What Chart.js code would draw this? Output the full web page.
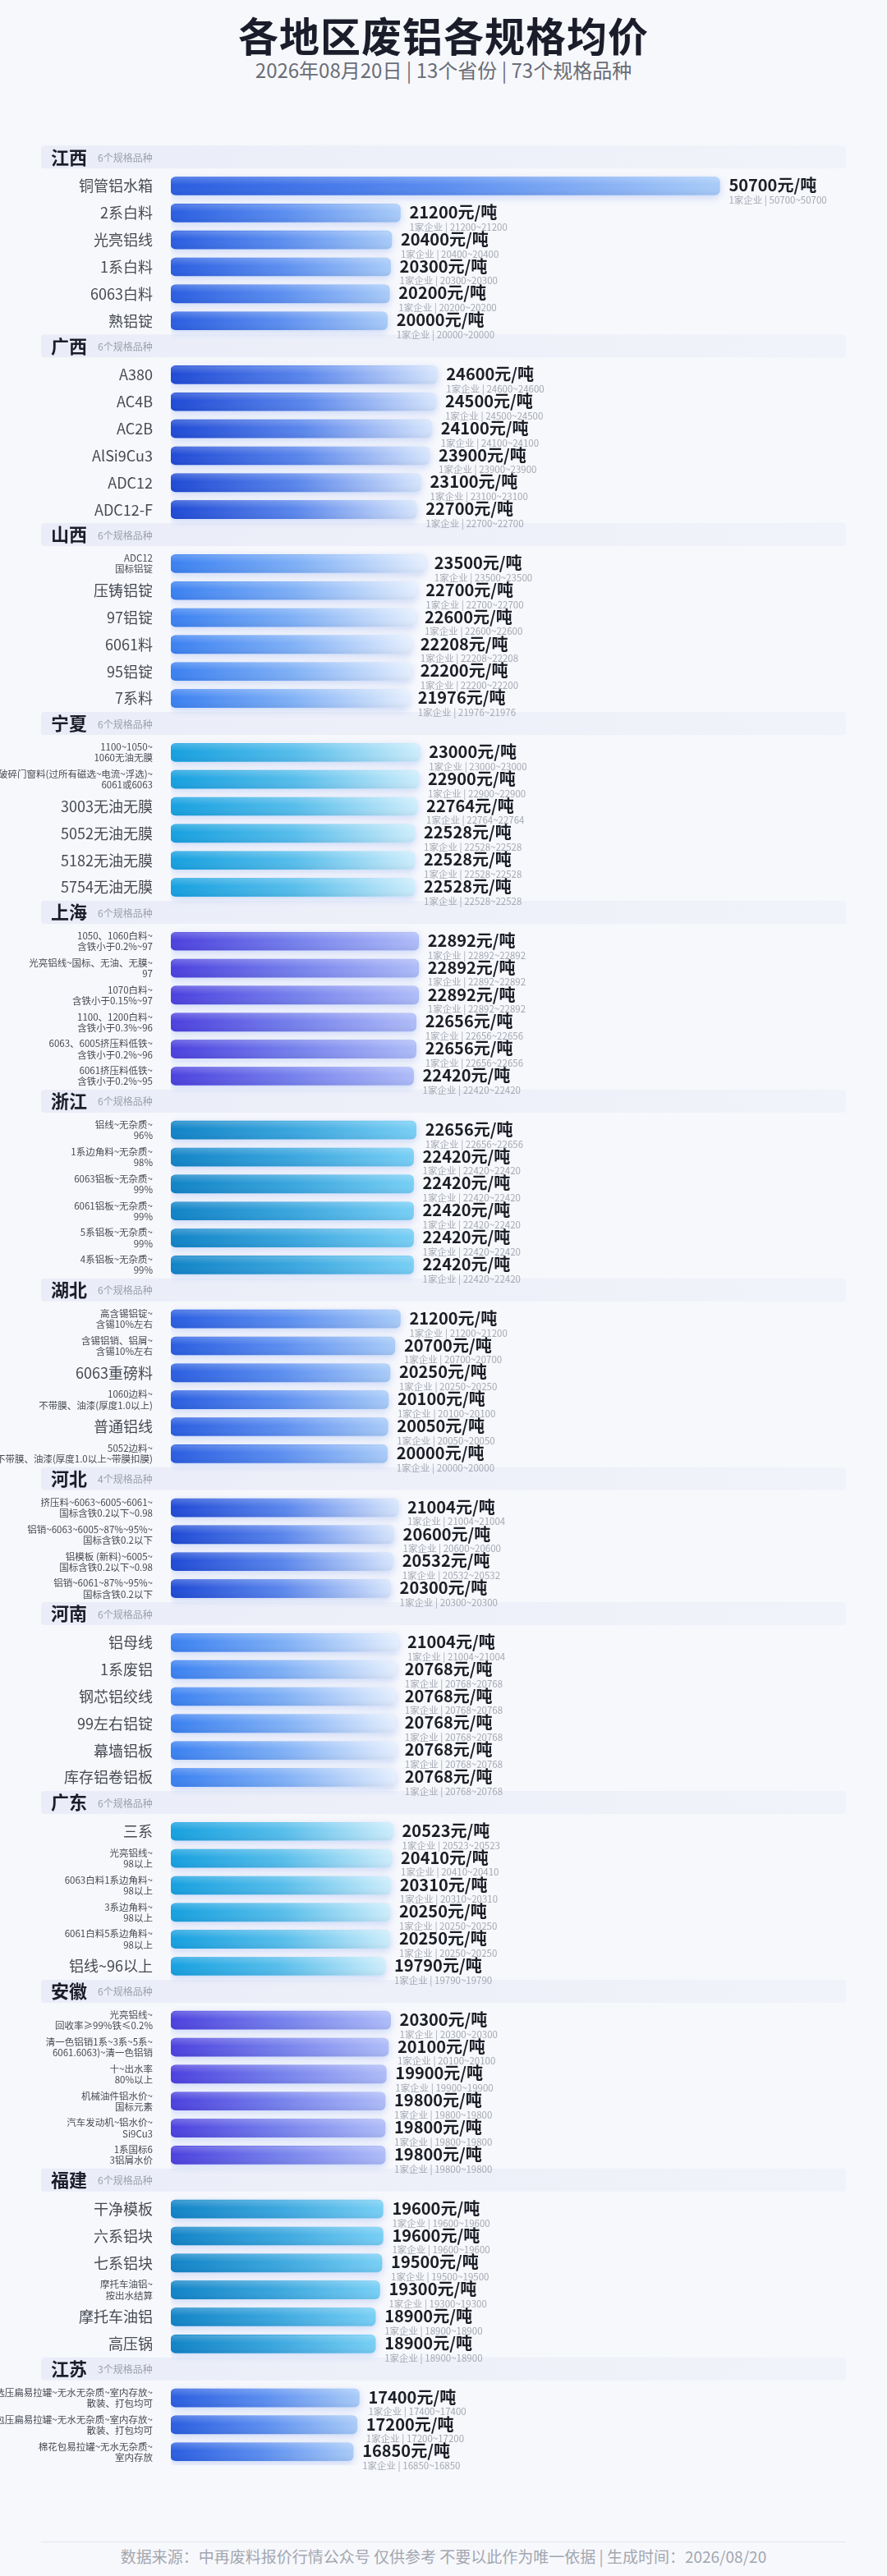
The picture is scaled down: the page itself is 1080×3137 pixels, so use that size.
<!DOCTYPE html>
<html>
<head>
<meta charset="utf-8">
<script src="https://cdn.jsdelivr.net/npm/chart.js@4.4.1/dist/chart.umd.min.js"></script>
<style>
html,body{margin:0;padding:0;background:#f7f8fc;}
body{width:1080px;height:3137px;position:relative;overflow:hidden;font-family:"Noto Sans CJK SC","Noto Sans",sans-serif;}
#title{position:absolute;top:13px;left:0;width:1080px;text-align:center;font-size:49px;font-weight:700;color:#1b1d2a;line-height:58px;letter-spacing:1px;}
#sub{position:absolute;top:71px;left:0;width:1080px;text-align:center;font-size:24px;color:#6a6e77;line-height:28px;}
#wrap{position:absolute;top:150px;left:0;width:1080px;height:2877px;}
#line{position:absolute;top:3095px;left:50px;width:980px;height:1px;background:#e2e5ed;}
#foot{position:absolute;top:3099px;left:0;width:1080px;text-align:center;font-size:19px;color:#a3a7b0;line-height:28px;}
</style>
</head>
<body>
<div id="title">各地区废铝各规格均价</div>
<div id="sub"></div>
<div id="wrap"><canvas id="c" width="1080" height="2877"></canvas></div>
<div id="line"></div>
<div id="foot">数据来源：中再废料报价行情公众号 仅供参考 不要以此作为唯一依据 | 生成时间：2026/08/20</div>
<script>
// ---------------- DATA ----------------
const reportDate = '2026年08月20日';
const provinces = ['江西','广西','山西','宁夏','上海','浙江','湖北','河北','河南','广东','安徽','福建','江苏'];

const itemsJiangxi = ['铜管铝水箱','2系白料','光亮铝线','1系白料','6063白料','熟铝锭'];
const pricesJiangxi = [50700,21200,20400,20300,20200,20000];

const itemsGuangxi = ['A380','AC4B','AC2B','AlSi9Cu3','ADC12','ADC12-F'];
const pricesGuangxi = [24600,24500,24100,23900,23100,22700];

const itemsShanxi = ['ADC12\n国标铝锭','压铸铝锭','97铝锭','6061料','95铝锭','7系料'];
const pricesShanxi = [23500,22700,22600,22208,22200,21976];

const itemsNingxia = ['1100~1050~\n1060无油无膜','破碎门窗料(过所有磁选~电流~浮选)~\n6061或6063','3003无油无膜','5052无油无膜','5182无油无膜','5754无油无膜'];
const pricesNingxia = [23000,22900,22764,22528,22528,22528];

const itemsShanghai = ['1050、1060白料~\n含铁小于0.2%~97','光亮铝线~国标、无油、无膜~\n97','1070白料~\n含铁小于0.15%~97','1100、1200白料~\n含铁小于0.3%~96','6063、6005挤压料低铁~\n含铁小于0.2%~96','6061挤压料低铁~\n含铁小于0.2%~95'];
const pricesShanghai = [22892,22892,22892,22656,22656,22420];

const itemsZhejiang = ['铝线~无杂质~\n96%','1系边角料~无杂质~\n98%','6063铝板~无杂质~\n99%','6061铝板~无杂质~\n99%','5系铝板~无杂质~\n99%','4系铝板~无杂质~\n99%'];
const pricesZhejiang = [22656,22420,22420,22420,22420,22420];

const itemsHubei = ['高含锡铝锭~\n含锡10%左右','含锡铝销、铝屑~\n含锡10%左右','6063重磅料','1060边料~\n不带膜、油漆(厚度1.0以上)','普通铝线','5052边料~\n不带膜、油漆(厚度1.0以上~带膜扣膜)'];
const pricesHubei = [21200,20700,20250,20100,20050,20000];

const itemsHebei = ['挤压料~6063~6005~6061~\n国标含铁0.2以下~0.98','铝销~6063~6005~87%~95%~\n国标含铁0.2以下','铝模板 (新料)~6005~\n国标含铁0.2以下~0.98','铝销~6061~87%~95%~\n国标含铁0.2以下'];
const pricesHebei = [21004,20600,20532,20300];

const itemsHenan = ['铝母线','1系废铝','钢芯铝绞线','99左右铝锭','幕墙铝板','库存铝卷铝板'];
const pricesHenan = [21004,20768,20768,20768,20768,20768];

const itemsGuangdong = ['三系','光亮铝线~\n98以上','6063白料1系边角料~\n98以上','3系边角料~\n98以上','6061白料5系边角料~\n98以上','铝线~96以上'];
const pricesGuangdong = [20523,20410,20310,20250,20250,19790];

const itemsAnhui = ['光亮铝线~\n回收率≥99%铁≤0.2%','清一色铝销1系~3系~5系~\n6061.6063)~清一色铝销','十~出水率\n80%以上','机械油件铝水价~\n国标元素','汽车发动机~铝水价~\nSi9Cu3','1系国标6\n3铝屑水价'];
const pricesAnhui = [20300,20100,19900,19800,19800,19800];

const itemsFujian = ['干净模板','六系铝块','七系铝块','摩托车油铝~\n按出水结算','摩托车油铝','高压锅'];
const pricesFujian = [19600,19600,19500,19300,18900,18900];

const itemsJiangsu = ['风选压扁易拉罐~无水无杂质~室内存放~\n散装、打包均可','打包压扁易拉罐~无水无杂质~室内存放~\n散装、打包均可','棉花包易拉罐~无水无杂质~\n室内存放'];
const pricesJiangsu = [17400,17200,16850];

const companyCount = 1; // 每个规格均为 1家企业

const provinceItems = [itemsJiangxi,itemsGuangxi,itemsShanxi,itemsNingxia,itemsShanghai,itemsZhejiang,itemsHubei,itemsHebei,itemsHenan,itemsGuangdong,itemsAnhui,itemsFujian,itemsJiangsu];
const provincePrices = [pricesJiangxi,pricesGuangxi,pricesShanxi,pricesNingxia,pricesShanghai,pricesZhejiang,pricesHubei,pricesHebei,pricesHenan,pricesGuangdong,pricesAnhui,pricesFujian,pricesJiangsu];

// ---------------- STYLE ----------------
const palettes = [
  ['#2a5de0','#5b8ef0','#a8cbf8'], // blue
  ['#1f4ad5','#5a86ec','#d6e5fc'], // deep blue
  ['#3a80f1','#7fb0f6','#e4eefd'], // light blue
  ['#16a0df','#56bdeb','#cdedfb'], // cyan
  ['#4c40de','#7580ec','#aebcf8'], // indigo
  ['#1183c6','#3aa6de','#78cff5']  // teal
];
const FONT = '"Noto Sans CJK SC","Noto Sans",sans-serif';

// ---------------- BUILD ROWS ----------------
const rowLabels = [], rowValues = [], rowPalette = [], headerRows = [];
provinces.forEach((p, pi) => {
  headerRows.push({index: rowLabels.length, name: p, count: provinceItems[pi].length});
  rowLabels.push(''); rowValues.push(null); rowPalette.push(pi % 6);
  provinceItems[pi].forEach((it, k) => {
    rowLabels.push(it.indexOf('\n') >= 0 ? it.split('\n') : it);
    rowValues.push(provincePrices[pi][k]);
    rowPalette.push(pi % 6);
  });
});
const totalItems = provinceItems.reduce((s, a) => s + a.length, 0);
document.getElementById('sub').textContent = reportDate + ' | ' + provinces.length + '个省份 | ' + totalItems + '个规格品种';

function barFill(c) {
  const chart = c.chart, i = c.dataIndex, pal = palettes[rowPalette[i]];
  const v = rowValues[i];
  if (v == null) return 'rgba(0,0,0,0)';
  if (!chart.chartArea || !chart.scales.x) return pal[0];
  const xs = chart.scales.x;
  const x0 = xs.getPixelForValue(0), x1 = xs.getPixelForValue(v);
  const g = chart.ctx.createLinearGradient(x0, 0, x1, 0);
  g.addColorStop(0, pal[0]); g.addColorStop(0.5, pal[1]); g.addColorStop(1, pal[2]);
  return g;
}

const deco = {
  id: 'deco',
  beforeDatasetsDraw(chart) {
    const ctx = chart.ctx, y = chart.scales.y;
    const rowH = y.getPixelForValue(1) - y.getPixelForValue(0);
    headerRows.forEach(h => {
      const top = y.getPixelForValue(h.index) - rowH / 2;
      ctx.save();
      const g = ctx.createLinearGradient(50, 0, 1030, 0);
      g.addColorStop(0, '#eaedf8'); g.addColorStop(1, '#f1f3fa');
      ctx.fillStyle = g;
      ctx.beginPath(); ctx.roundRect(50, top, 980, 28, 4); ctx.fill();
      ctx.textBaseline = 'middle'; ctx.textAlign = 'left';
      ctx.font = '700 22px ' + FONT; ctx.fillStyle = '#1b1d2a';
      ctx.fillText(h.name, 62, top + 14);
      const w = ctx.measureText(h.name).width;
      ctx.font = '12px ' + FONT; ctx.fillStyle = '#9ca1ac';
      ctx.fillText(h.count + '个规格品种', 62 + w + 13, top + 15);
      ctx.restore();
    });
    ctx.save();
    ctx.shadowColor = 'rgba(60,110,230,0.24)';
    ctx.shadowBlur = 10; ctx.shadowOffsetY = 3;
  },
  afterDatasetsDraw(chart) {
    const ctx = chart.ctx;
    ctx.restore();
    const meta = chart.getDatasetMeta(0);
    meta.data.forEach((el, i) => {
      const v = rowValues[i];
      if (v == null) return;
      const x0 = el.base, x1 = el.x, hh = el.height, top = el.y - hh / 2;
      ctx.save();
      ctx.beginPath(); ctx.roundRect(x0, top, x1 - x0, hh, 6); ctx.clip();
      const g = ctx.createLinearGradient(0, top, 0, top + hh);
      g.addColorStop(0, 'rgba(255,255,255,0.22)');
      g.addColorStop(0.45, 'rgba(255,255,255,0)');
      g.addColorStop(1, 'rgba(0,0,40,0.06)');
      ctx.fillStyle = g; ctx.fillRect(x0, top, x1 - x0, hh);
      ctx.restore();
      ctx.save();
      ctx.textAlign = 'left'; ctx.textBaseline = 'middle';
      ctx.font = '700 20px ' + FONT; ctx.fillStyle = '#1c1e26';
      ctx.fillText(v + '元/吨', x1 + 11, el.y - 1);
      ctx.font = '11.5px ' + FONT; ctx.fillStyle = '#a5a9b2';
      ctx.fillText(companyCount + '家企业 | ' + v + '~' + v, x1 + 11, el.y + 17);
      ctx.restore();
    });
  }
};

new Chart(document.getElementById('c'), {
  type: 'bar',
  data: {
    labels: rowLabels,
    datasets: [{
      data: rowValues,
      backgroundColor: barFill,
      borderRadius: 6,
      borderSkipped: false,
      barThickness: 22
    }]
  },
  options: {
    indexAxis: 'y',
    responsive: false,
    animation: false,
    layout: {padding: {left: 0, right: 81, top: 0, bottom: 0}},
    plugins: {legend: {display: false}, tooltip: {enabled: false}},
    scales: {
      x: {display: false, min: 0, max: 60000},
      y: {
        grid: {display: false},
        border: {display: false},
        afterFit: s => { s.width = 208; },
        ticks: {
          autoSkip: false,
          padding: 14,
          color: '#474a52',
          font: c => Array.isArray(rowLabels[c.index])
            ? {family: FONT, size: 11.5, lineHeight: 1.15}
            : {family: FONT, size: 18, lineHeight: 1.2}
        }
      }
    }
  },
  plugins: [deco]
});
</script>
</body>
</html>
